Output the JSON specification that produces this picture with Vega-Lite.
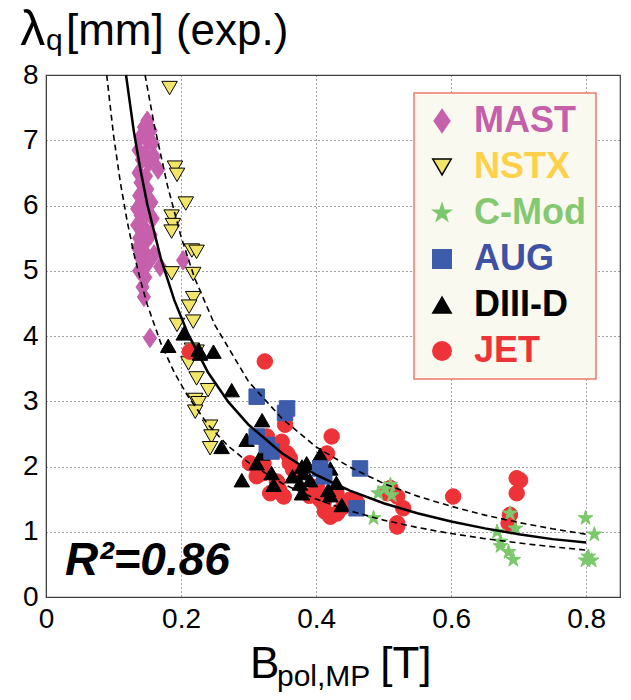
{
  "$schema": "https://vega.github.io/schema/vega-lite/v6.json",
  "width": 574,
  "height": 522,
  "autosize": {"type": "none"},
  "padding": {"left": 46, "top": 75, "right": 11, "bottom": 103},
  "background": "white",
  "config": {"view": {"stroke": "#404040", "strokeWidth": 1.2}, "font": "Liberation Sans"},
  "datasets": {
    "one": [{}],
    "pts": [
      {"m":"MAST","b":0.150,"lam":7.30},{"m":"MAST","b":0.145,"lam":7.20},{"m":"MAST","b":0.155,"lam":7.15},{"m":"MAST","b":0.140,"lam":7.05},{"m":"MAST","b":0.150,"lam":7.00},{"m":"MAST","b":0.158,"lam":6.95},{"m":"MAST","b":0.137,"lam":6.85},{"m":"MAST","b":0.147,"lam":6.80},{"m":"MAST","b":0.160,"lam":6.75},{"m":"MAST","b":0.142,"lam":6.70},{"m":"MAST","b":0.152,"lam":6.65},{"m":"MAST","b":0.166,"lam":6.55},{"m":"MAST","b":0.137,"lam":6.50},{"m":"MAST","b":0.148,"lam":6.45},{"m":"MAST","b":0.140,"lam":6.35},{"m":"MAST","b":0.150,"lam":6.25},{"m":"MAST","b":0.138,"lam":6.15},{"m":"MAST","b":0.145,"lam":6.05},{"m":"MAST","b":0.156,"lam":6.05},{"m":"MAST","b":0.135,"lam":5.95},{"m":"MAST","b":0.150,"lam":5.90},{"m":"MAST","b":0.140,"lam":5.85},{"m":"MAST","b":0.158,"lam":5.80},{"m":"MAST","b":0.135,"lam":5.70},{"m":"MAST","b":0.146,"lam":5.65},{"m":"MAST","b":0.155,"lam":5.55},{"m":"MAST","b":0.152,"lam":5.55},{"m":"MAST","b":0.138,"lam":5.50},{"m":"MAST","b":0.148,"lam":5.45},{"m":"MAST","b":0.136,"lam":5.35},{"m":"MAST","b":0.145,"lam":5.30},{"m":"MAST","b":0.160,"lam":5.25},{"m":"MAST","b":0.140,"lam":5.20},{"m":"MAST","b":0.150,"lam":5.10},{"m":"MAST","b":0.169,"lam":5.06},{"m":"MAST","b":0.142,"lam":5.05},{"m":"MAST","b":0.138,"lam":5.00},{"m":"MAST","b":0.147,"lam":4.90},{"m":"MAST","b":0.143,"lam":4.75},{"m":"MAST","b":0.145,"lam":4.60},{"m":"MAST","b":0.203,"lam":5.16},{"m":"MAST","b":0.154,"lam":3.97},
      {"m":"NSTX","b":0.183,"lam":7.80},{"m":"NSTX","b":0.191,"lam":6.58},{"m":"NSTX","b":0.194,"lam":6.47},{"m":"NSTX","b":0.207,"lam":6.03},{"m":"NSTX","b":0.186,"lam":5.83},{"m":"NSTX","b":0.188,"lam":5.70},{"m":"NSTX","b":0.186,"lam":5.60},{"m":"NSTX","b":0.216,"lam":5.31},{"m":"NSTX","b":0.223,"lam":5.29},{"m":"NSTX","b":0.186,"lam":4.96},{"m":"NSTX","b":0.218,"lam":4.95},{"m":"NSTX","b":0.218,"lam":4.58},{"m":"NSTX","b":0.212,"lam":4.45},{"m":"NSTX","b":0.218,"lam":4.22},{"m":"NSTX","b":0.194,"lam":4.17},{"m":"NSTX","b":0.216,"lam":3.79},{"m":"NSTX","b":0.223,"lam":3.76},{"m":"NSTX","b":0.211,"lam":3.58},{"m":"NSTX","b":0.223,"lam":3.35},{"m":"NSTX","b":0.240,"lam":3.17},{"m":"NSTX","b":0.221,"lam":3.02},{"m":"NSTX","b":0.226,"lam":2.97},{"m":"NSTX","b":0.221,"lam":2.84},{"m":"NSTX","b":0.243,"lam":2.61},{"m":"NSTX","b":0.245,"lam":2.46},{"m":"NSTX","b":0.243,"lam":2.28},
      {"m":"JET","b":0.213,"lam":3.76},{"m":"JET","b":0.324,"lam":3.61},{"m":"JET","b":0.354,"lam":2.64},{"m":"JET","b":0.423,"lam":2.46},{"m":"JET","b":0.349,"lam":2.38},{"m":"JET","b":0.357,"lam":2.20},{"m":"JET","b":0.302,"lam":2.05},{"m":"JET","b":0.322,"lam":1.90},{"m":"JET","b":0.361,"lam":2.05},{"m":"JET","b":0.366,"lam":1.95},{"m":"JET","b":0.342,"lam":1.77},{"m":"JET","b":0.352,"lam":1.54},{"m":"JET","b":0.332,"lam":1.59},{"m":"JET","b":0.416,"lam":2.20},{"m":"JET","b":0.401,"lam":1.69},{"m":"JET","b":0.411,"lam":1.44},{"m":"JET","b":0.421,"lam":1.23},{"m":"JET","b":0.431,"lam":1.28},{"m":"JET","b":0.450,"lam":1.49},{"m":"JET","b":0.520,"lam":1.08},{"m":"JET","b":0.361,"lam":2.13},{"m":"JET","b":0.413,"lam":1.31},{"m":"JET","b":0.440,"lam":1.38},{"m":"JET","b":0.406,"lam":1.49},{"m":"JET","b":0.327,"lam":2.46},{"m":"JET","b":0.322,"lam":2.05},{"m":"JET","b":0.505,"lam":1.59},{"m":"JET","b":0.520,"lam":1.54},{"m":"JET","b":0.529,"lam":1.36},{"m":"JET","b":0.520,"lam":1.13},{"m":"JET","b":0.510,"lam":1.67},{"m":"JET","b":0.603,"lam":1.54},{"m":"JET","b":0.697,"lam":1.82},{"m":"JET","b":0.702,"lam":1.79},{"m":"JET","b":0.697,"lam":1.59},{"m":"JET","b":0.687,"lam":1.26},{"m":"JET","b":0.685,"lam":1.13},{"m":"JET","b":0.312,"lam":1.85},{"m":"JET","b":0.345,"lam":1.65},{"m":"JET","b":0.390,"lam":1.55},{"m":"JET","b":0.430,"lam":1.60},{"m":"JET","b":0.460,"lam":1.45},
      {"m":"DIII-D","b":0.204,"lam":4.04},{"m":"DIII-D","b":0.181,"lam":3.85},{"m":"DIII-D","b":0.226,"lam":3.79},{"m":"DIII-D","b":0.248,"lam":3.76},{"m":"DIII-D","b":0.228,"lam":3.73},{"m":"DIII-D","b":0.275,"lam":3.17},{"m":"DIII-D","b":0.260,"lam":2.30},{"m":"DIII-D","b":0.320,"lam":2.71},{"m":"DIII-D","b":0.297,"lam":2.41},{"m":"DIII-D","b":0.320,"lam":2.20},{"m":"DIII-D","b":0.312,"lam":2.05},{"m":"DIII-D","b":0.290,"lam":1.79},{"m":"DIII-D","b":0.334,"lam":1.90},{"m":"DIII-D","b":0.337,"lam":1.72},{"m":"DIII-D","b":0.379,"lam":2.00},{"m":"DIII-D","b":0.386,"lam":2.05},{"m":"DIII-D","b":0.406,"lam":2.18},{"m":"DIII-D","b":0.421,"lam":1.97},{"m":"DIII-D","b":0.376,"lam":1.74},{"m":"DIII-D","b":0.379,"lam":1.59},{"m":"DIII-D","b":0.421,"lam":1.56},{"m":"DIII-D","b":0.438,"lam":1.41},{"m":"DIII-D","b":0.391,"lam":1.79},{"m":"DIII-D","b":0.418,"lam":1.64},{"m":"DIII-D","b":0.381,"lam":1.90},{"m":"DIII-D","b":0.430,"lam":1.75},{"m":"DIII-D","b":0.365,"lam":1.85},
      {"m":"AUG","b":0.312,"lam":3.07},{"m":"AUG","b":0.357,"lam":2.89},{"m":"AUG","b":0.354,"lam":2.82},{"m":"AUG","b":0.312,"lam":2.46},{"m":"AUG","b":0.327,"lam":2.33},{"m":"AUG","b":0.334,"lam":2.23},{"m":"AUG","b":0.406,"lam":1.97},{"m":"AUG","b":0.465,"lam":1.97},{"m":"AUG","b":0.460,"lam":1.36},{"m":"AUG","b":0.412,"lam":1.85},
      {"m":"C-Mod","b":0.510,"lam":1.72},{"m":"C-Mod","b":0.492,"lam":1.59},{"m":"C-Mod","b":0.512,"lam":1.56},{"m":"C-Mod","b":0.502,"lam":1.66},{"m":"C-Mod","b":0.485,"lam":1.21},{"m":"C-Mod","b":0.687,"lam":1.28},{"m":"C-Mod","b":0.668,"lam":1.00},{"m":"C-Mod","b":0.695,"lam":1.05},{"m":"C-Mod","b":0.673,"lam":0.85},{"m":"C-Mod","b":0.673,"lam":0.78},{"m":"C-Mod","b":0.685,"lam":0.69},{"m":"C-Mod","b":0.692,"lam":0.57},{"m":"C-Mod","b":0.799,"lam":1.21},{"m":"C-Mod","b":0.812,"lam":0.96},{"m":"C-Mod","b":0.799,"lam":0.56},{"m":"C-Mod","b":0.808,"lam":0.56},{"m":"C-Mod","b":0.803,"lam":0.62}
    ],
    "curves": [
      {"c":"fit","b":0.1185,"lam":8.0},{"c":"fit","b":0.13,"lam":7.14},{"c":"fit","b":0.14,"lam":6.54},{"c":"fit","b":0.15,"lam":6.02},{"c":"fit","b":0.17,"lam":5.19},{"c":"fit","b":0.19,"lam":4.55},{"c":"fit","b":0.21,"lam":4.04},{"c":"fit","b":0.24,"lam":3.44},{"c":"fit","b":0.27,"lam":2.99},{"c":"fit","b":0.30,"lam":2.64},{"c":"fit","b":0.35,"lam":2.20},{"c":"fit","b":0.40,"lam":1.87},{"c":"fit","b":0.45,"lam":1.63},{"c":"fit","b":0.50,"lam":1.437},{"c":"fit","b":0.55,"lam":1.283},{"c":"fit","b":0.60,"lam":1.157},{"c":"fit","b":0.65,"lam":1.052},{"c":"fit","b":0.70,"lam":0.963},{"c":"fit","b":0.75,"lam":0.887},{"c":"fit","b":0.80,"lam":0.835},
      {"c":"upper","b":0.1467,"lam":8.0},{"c":"upper","b":0.16,"lam":7.25},{"c":"upper","b":0.18,"lam":6.30},{"c":"upper","b":0.20,"lam":5.52},{"c":"upper","b":0.22,"lam":4.89},{"c":"upper","b":0.25,"lam":4.17},{"c":"upper","b":0.30,"lam":3.30},{"c":"upper","b":0.35,"lam":2.73},{"c":"upper","b":0.40,"lam":2.30},{"c":"upper","b":0.45,"lam":1.99},{"c":"upper","b":0.50,"lam":1.74},{"c":"upper","b":0.55,"lam":1.546},{"c":"upper","b":0.60,"lam":1.39},{"c":"upper","b":0.65,"lam":1.255},{"c":"upper","b":0.70,"lam":1.141},{"c":"upper","b":0.75,"lam":1.045},{"c":"upper","b":0.80,"lam":0.962},
      {"c":"lower","b":0.0899,"lam":8.0},{"c":"lower","b":0.10,"lam":7.08},{"c":"lower","b":0.11,"lam":6.36},{"c":"lower","b":0.12,"lam":5.77},{"c":"lower","b":0.13,"lam":5.27},{"c":"lower","b":0.14,"lam":4.85},{"c":"lower","b":0.15,"lam":4.48},{"c":"lower","b":0.17,"lam":3.89},{"c":"lower","b":0.19,"lam":3.44},{"c":"lower","b":0.21,"lam":3.08},{"c":"lower","b":0.24,"lam":2.64},{"c":"lower","b":0.27,"lam":2.31},{"c":"lower","b":0.30,"lam":2.06},{"c":"lower","b":0.35,"lam":1.74},{"c":"lower","b":0.40,"lam":1.50},{"c":"lower","b":0.45,"lam":1.32},{"c":"lower","b":0.50,"lam":1.178},{"c":"lower","b":0.55,"lam":1.065},{"c":"lower","b":0.60,"lam":0.972},{"c":"lower","b":0.65,"lam":0.894},{"c":"lower","b":0.70,"lam":0.828},{"c":"lower","b":0.75,"lam":0.770},{"c":"lower","b":0.80,"lam":0.719}
    ]
  },
  "layer": [
    {
      "data": {"name": "pts"},
      "mark": {"type": "point", "filled": true, "size": 240, "strokeWidth": 1, "opacity": 1},
      "encoding": {
        "x": {"field": "b", "type": "quantitative",
              "scale": {"domain": [0, 0.85], "nice": false, "zero": false},
              "axis": {"values": [0, 0.2, 0.4, 0.6, 0.8], "format": "~g", "title": null, "labelFontSize": 28, "labelColor": "#000", "labelPadding": 8, "grid": true, "gridDash": [1, 3], "gridColor": "#444", "gridOpacity": 1, "domainColor": "#404040", "ticks": false, "labelFlush": false}},
        "y": {"field": "lam", "type": "quantitative",
              "scale": {"domain": [0, 8], "nice": false, "zero": false},
              "axis": {"values": [0, 1, 2, 3, 4, 5, 6, 7, 8], "format": "d", "title": null, "labelFontSize": 28, "labelColor": "#000", "labelPadding": 8, "grid": true, "gridDash": [1, 3], "gridColor": "#444", "gridOpacity": 1, "domainColor": "#404040", "ticks": false, "labelFlush": false}},
        "fill": {"field": "m", "type": "nominal",
                 "scale": {"domain": ["MAST", "NSTX", "C-Mod", "AUG", "DIII-D", "JET"], "range": ["#C660AC", "#F2E66A", "#7CC86C", "#3D5CAA", "#000000", "#EE3338"]},
                 "legend": {"title": null, "orient": "none", "legendX": 368, "legendY": 18, "fillColor": "#FAF9EF", "strokeColor": "#F07A70", "padding": 10, "rowPadding": 10, "labelFontSize": 36, "labelFontWeight": "bold", "labelOffset": 14, "symbolSize": 340, "symbolStrokeWidth": 1.5, "symbolOpacity": 1, "labelLimit": 200,
                            "encode": {"legend": {"update": {"strokeWidth": {"value": 1.5}}},
                                       "labels": {"update": {"fill": {"signal": "datum.label === 'MAST' ? '#C45FAA' : datum.label === 'NSTX' ? '#FFD04A' : datum.label === 'C-Mod' ? '#85C872' : datum.label === 'AUG' ? '#3F51A3' : datum.label === 'JET' ? '#EE3338' : '#000000'"}}}}}},
        "stroke": {"field": "m", "type": "nominal",
                   "scale": {"domain": ["MAST", "NSTX", "C-Mod", "AUG", "DIII-D", "JET"], "range": ["#C660AC", "#000000", "#7CC86C", "#3D5CAA", "#000000", "#EE3338"]}},
        "shape": {"field": "m", "type": "nominal",
                  "scale": {"domain": ["MAST", "NSTX", "C-Mod", "AUG", "DIII-D", "JET"], "range": ["M0,-1.25L0.85,0L0,1.25L-0.85,0Z", "triangle-down", "M0,-1L0.2245,-0.309L0.951,-0.309L0.3633,0.118L0.5878,0.809L0,0.382L-0.5878,0.809L-0.3633,0.118L-0.951,-0.309L-0.2245,-0.309Z", "square", "triangle-up", "circle"]}}
      }
    },
    {
      "data": {"name": "curves"},
      "transform": [{"filter": "datum.c === 'fit'"}],
      "mark": {"type": "line", "color": "#000", "strokeWidth": 2.5},
      "encoding": {"x": {"field": "b", "type": "quantitative"}, "y": {"field": "lam", "type": "quantitative"}, "order": {"field": "b"}}
    },
    {
      "data": {"name": "curves"},
      "transform": [{"filter": "datum.c !== 'fit'"}],
      "mark": {"type": "line", "color": "#000", "strokeWidth": 1.6, "strokeDash": [6, 4]},
      "encoding": {"x": {"field": "b", "type": "quantitative"}, "y": {"field": "lam", "type": "quantitative"}, "detail": {"field": "c"}, "order": {"field": "b"}}
    },
    {
      "data": {"name": "one"},
      "mark": {"type": "text", "text": "R²=0.86", "fontSize": 46, "fontWeight": "bold", "fontStyle": "italic", "align": "left", "baseline": "alphabetic", "color": "#000"},
      "encoding": {"x": {"datum": 0.028}, "y": {"datum": 0.337}}
    },
    {
      "data": {"name": "one"},
      "mark": {"type": "text", "text": "λ", "fontSize": 50, "align": "left", "baseline": "alphabetic", "color": "#000"},
      "encoding": {"x": {"datum": -0.038}, "y": {"datum": 8.46}}
    },
    {
      "data": {"name": "one"},
      "mark": {"type": "text", "text": "q", "fontSize": 30, "align": "left", "baseline": "alphabetic", "color": "#000"},
      "encoding": {"x": {"datum": 0.0}, "y": {"datum": 8.38}}
    },
    {
      "data": {"name": "one"},
      "mark": {"type": "text", "text": "[mm] (exp.)", "fontSize": 44, "align": "left", "baseline": "alphabetic", "color": "#000"},
      "encoding": {"x": {"datum": 0.0296}, "y": {"datum": 8.46}}
    },
    {
      "data": {"name": "one"},
      "mark": {"type": "text", "text": "B", "fontSize": 44, "align": "left", "baseline": "alphabetic", "color": "#000"},
      "encoding": {"x": {"datum": 0.302}, "y": {"datum": -1.241}}
    },
    {
      "data": {"name": "one"},
      "mark": {"type": "text", "text": "pol,MP", "fontSize": 30, "align": "left", "baseline": "alphabetic", "color": "#000"},
      "encoding": {"x": {"datum": 0.342}, "y": {"datum": -1.364}}
    },
    {
      "data": {"name": "one"},
      "mark": {"type": "text", "text": "[T]", "fontSize": 44, "align": "left", "baseline": "alphabetic", "color": "#000"},
      "encoding": {"x": {"datum": 0.495}, "y": {"datum": -1.241}}
    }
  ]
}
